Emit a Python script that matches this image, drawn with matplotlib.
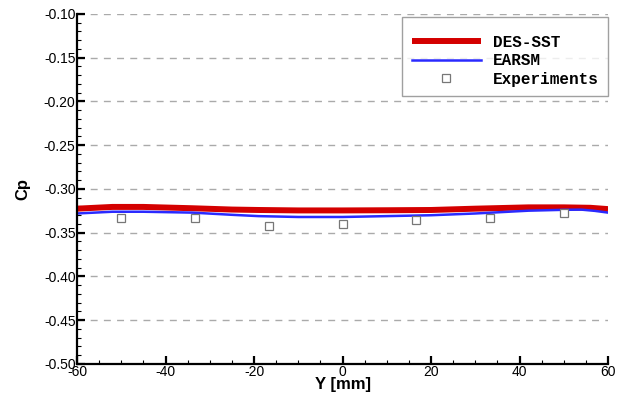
import numpy as np
import matplotlib.pyplot as plt
from matplotlib.ticker import MultipleLocator, FormatStrFormatter

plt.rcParams["axes.unicode_minus"] = False

# DES-SST curve
y_des = [-60, -52, -45, -34, -25, -19, -10, 0, 10, 20, 30, 42, 50, 56, 60]
cp_des = [-0.3225, -0.3205, -0.3205, -0.322, -0.3235, -0.324, -0.3245, -0.3245,
          -0.3243, -0.324, -0.3225, -0.321, -0.321, -0.3215, -0.323]

# EARSM curve
y_ears = [-60, -52, -45, -34, -25, -19, -10, 0, 10, 20, 30, 42, 50, 54, 57, 60]
cp_ears = [-0.328, -0.326, -0.326, -0.327, -0.3295, -0.331, -0.332, -0.332,
           -0.331, -0.330, -0.328, -0.3248, -0.3238, -0.3236, -0.325, -0.327]

# experiments
y_exp = [-50, -33.3, -16.7, 0, 16.7, 33.3, 50]
cp_exp = [-0.333, -0.333, -0.342, -0.340, -0.335, -0.333, -0.327]

fig = plt.figure(figsize=(6.23, 3.95), dpi=100)
ax = fig.add_axes([0.1236, 0.0785, 0.976 - 0.1236, 0.9646 - 0.0785])

for yv in np.arange(-0.45, -0.09, 0.05):
    ax.axhline(yv, color="#aaaaaa", lw=1.0, ls=(0, (5, 4.5)), zorder=0)

ax.plot(y_des, cp_des, color="#d40000", lw=4.3, label="DES-SST",
        solid_capstyle="butt")
ax.plot(y_ears, cp_ears, color="#2a2aff", lw=1.8, label="EARSM")
ax.plot(y_exp, cp_exp, ls="none", marker="s", ms=5.5, mfc="white",
        mec="#777777", mew=0.9, label="Experiments")

ax.set_xlim(-60, 60)
ax.set_ylim(-0.50, -0.10)
ax.xaxis.set_major_locator(MultipleLocator(20))
ax.xaxis.set_minor_locator(MultipleLocator(5))
ax.yaxis.set_major_locator(MultipleLocator(0.05))
ax.yaxis.set_minor_locator(MultipleLocator(0.01))
ax.yaxis.set_major_formatter(FormatStrFormatter("%.2f"))

ax.spines["top"].set_visible(False)
ax.spines["right"].set_visible(False)
ax.spines["left"].set_linewidth(1.6)
ax.spines["bottom"].set_linewidth(1.6)
ax.tick_params(which="major", direction="in", length=6, width=1.6,
               labelsize=10, pad=1)
ax.tick_params(which="minor", direction="in", length=3, width=0.8)
for lab in ax.get_xticklabels() + ax.get_yticklabels():
    lab.set_family("Liberation Sans")

ax.set_xlabel("Y [mm]", fontsize=12, fontweight="bold",
              family="Liberation Sans", labelpad=-1.5)
ax.set_ylabel("Cp", fontsize=12, fontweight="bold",
              family="Liberation Sans", labelpad=10)

leg = ax.legend(loc="upper right", bbox_to_anchor=(1.0, 0.99),
                prop={"family": "Liberation Mono", "weight": "bold", "size": 11.5},
                title=" ", title_fontsize=2,
                handlelength=4.3, frameon=True, fancybox=False,
                borderpad=0.6, labelspacing=0.22, handletextpad=0.75,
                borderaxespad=0.0)
leg.get_frame().set_edgecolor("#888888")
leg.get_frame().set_linewidth(1.0)

fig.savefig("out.png", dpi=100)
